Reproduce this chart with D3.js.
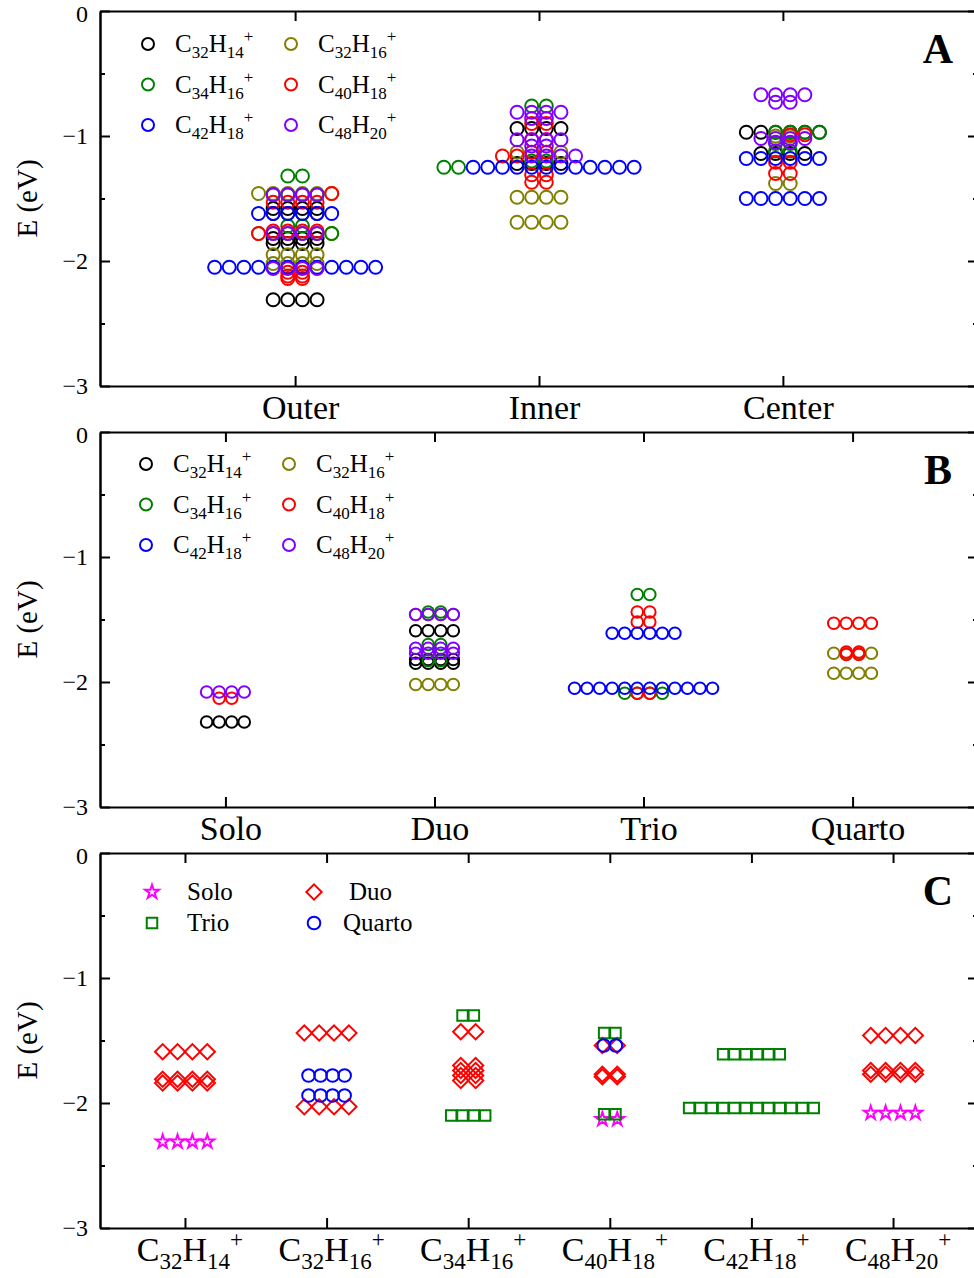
<!DOCTYPE html>
<html>
<head>
<meta charset="utf-8">
<script src="https://cdn.jsdelivr.net/npm/d3@7"></script>
<style>
  body { margin: 0; background: #fff; }
  svg { display: block; font-family: 'Liberation Serif', 'Times New Roman', serif; }
</style>
</head>
<body>
<div id="chart"></div>
<script>
// molecules (legend order) and their colours
const molecules = [['32', '14'], ['32', '16'], ['34', '16'], ['40', '18'], ['42', '18'], ['48', '20']];
const molColors = ['#000000', '#808000', '#008000', '#ff0000', '#0000ff', '#8000ff'];
const sitesA = ['Outer', 'Inner', 'Center'];
const typesB = ['Solo', 'Duo', 'Trio', 'Quarto'];
const yTicks = [0, -1, -2, -3];
const yMinor = [-0.5, -1.5, -2.5];

// panel A rows: [site index, energy (eV), number of sites, shift in marker pitches]
const aC32H14 = [[0, -1.58, 4], [0, -1.62, 4], [0, -1.82, 4], [0, -1.86, 4], [0, -2.31, 4],
  [1, -0.94, 4], [1, -1.22, 4], [2, -0.97, 6], [2, -1.14, 4]];
const aC32H16 = [[0, -1.46, 6], [0, -1.78, 6], [0, -1.95, 4], [0, -2.02, 4],
  [1, -1.13, 4], [1, -1.49, 4], [1, -1.69, 4], [2, -1.00, 2], [2, -1.38, 2]];
const aC34H16 = [[0, -1.32, 2], [0, -1.47, 4], [0, -1.72, 2], [0, -1.78, 1, 2.5],
  [1, -0.76, 2], [1, -1.20, 2], [1, -1.25, 2, -6], [2, -0.97, 4, 1], [2, -1.06, 2], [2, -1.12, 2]];
const aC40H18 = [[0, -1.46, 1, 2.5], [0, -1.53, 4], [0, -1.76, 4], [0, -1.78, 1, -2.5],
  [0, -2.09, 2], [0, -2.12, 2], [0, -2.14, 2],
  [1, -0.90, 2], [1, -1.03, 2], [1, -1.13, 2], [1, -1.16, 2, -2], [1, -1.31, 2], [1, -1.37, 2],
  [2, -0.99, 2, 1], [2, -1.21, 2], [2, -1.30, 2]];
const aC42H18 = [[0, -1.62, 6], [0, -2.05, 12], [1, -1.25, 12, 1], [2, -1.18, 6], [2, -1.50, 6]];
const aC48H20 = [[0, -1.47, 4], [0, -1.78, 4], [0, -2.06, 4],
  [1, -0.81, 4], [1, -0.86, 2], [1, -1.03, 4], [1, -1.08, 2], [1, -1.16, 4, 1],
  [2, -0.67, 4], [2, -0.73, 2], [2, -1.02, 4], [2, -1.05, 2]];

// panel B rows: [H type index, energy, count, shift]
const bC32H14 = [[0, -2.32, 4], [1, -1.59, 4], [1, -1.82, 4], [1, -1.85, 4]];
const bC32H16 = [[1, -1.46, 4], [1, -2.02, 4], [3, -1.77, 4], [3, -1.93, 4]];
const bC34H16 = [[1, -1.44, 2], [1, -1.70, 2], [1, -1.83, 2], [2, -1.30, 2], [2, -2.09, 4]];
const bC40H18 = [[0, -2.13, 2], [2, -1.44, 2], [2, -1.52, 2], [2, -2.09, 2], [3, -1.53, 4], [3, -1.76, 2], [3, -1.78, 2]];
const bC42H18 = [[2, -1.61, 6], [2, -2.05, 12]];
const bC48H20 = [[0, -2.08, 4], [1, -1.46, 4], [1, -1.73, 4], [1, -1.77, 4]];

// panel C rows: [molecule index, energy, count]
const cSolo = [[0, -2.31, 4], [3, -2.13, 2], [5, -2.08, 4]];
const cDuo = [[0, -1.59, 4], [0, -1.81, 4], [0, -1.84, 4], [1, -1.44, 4], [1, -2.03, 4],
  [2, -1.43, 2], [2, -1.70, 2], [2, -1.74, 2], [2, -1.78, 2], [2, -1.82, 2],
  [3, -1.54, 2], [3, -1.77, 2], [3, -1.79, 2], [5, -1.46, 4], [5, -1.74, 4], [5, -1.77, 4]];
const cTrio = [[2, -1.30, 2], [2, -2.10, 4], [3, -1.44, 2], [3, -2.09, 2], [4, -1.61, 6], [4, -2.04, 12]];
const cQuarto = [[1, -1.78, 4], [1, -1.94, 4], [3, -1.54, 2]];

const width = 974;
const height = 1278;
const left = 100;
const right = 978;
const panelH = 375;

const svg = d3.select('#chart').append('svg')
  .attr('width', width)
  .attr('height', height);

// turn rows into marker positions
const toPoints = (rows, x, y, pitch) => rows.flatMap(([c, e, n, s = 0]) =>
  d3.range(n).map(i => ({cx: x(c + 1 + (i - (n - 1) / 2 + s) * pitch), cy: y(e)})));

function formula(sel, m, size, sub) {
  sel.append('tspan').text('C');
  sel.append('tspan').attr('font-size', sub).attr('dy', size * 0.24).text(m[0]);
  sel.append('tspan').attr('dy', -size * 0.24).text('H');
  sel.append('tspan').attr('font-size', sub).attr('dy', size * 0.24).text(m[1]);
  sel.append('tspan').attr('font-size', sub).attr('dy', -size * 0.64).text('+');
}

function frame(top, x, n, labels) {
  const g = svg.append('g');
  const y = d3.scaleLinear().domain([0, -3]).range([top, top + panelH]);
  const style = a => {
    a.selectAll('path, line').attr('stroke', '#000').attr('stroke-width', 2);
    a.selectAll('text').attr('fill', '#000');
    a.attr('font-family', null);
  };
  g.append('g').attr('transform', `translate(${left},0)`)
    .call(d3.axisLeft(y).tickValues(yTicks).tickSize(-10).tickSizeOuter(0).tickPadding(12)
      .tickFormat(d => d === 0 ? '0' : '\u2212' + Math.abs(d)))
    .call(style).attr('font-size', 24)
    .selectAll('text').filter(d => d === 0).attr('dy', '0.42em');
  g.append('g').attr('transform', `translate(${left},0)`)
    .call(d3.axisLeft(y).tickValues(yMinor).tickSize(-5).tickSizeOuter(0).tickFormat(''))
    .call(style);
  g.append('g').attr('transform', `translate(${right},0)`)
    .call(d3.axisRight(y).tickValues(yTicks).tickSize(-10).tickSizeOuter(0).tickFormat(''))
    .call(style);
  g.append('g').attr('transform', `translate(${right},0)`)
    .call(d3.axisRight(y).tickValues(yMinor).tickSize(-5).tickSizeOuter(0).tickFormat(''))
    .call(style);
  const cats = d3.range(1, n + 1);
  g.append('g').attr('transform', `translate(0,${top})`)
    .call(d3.axisTop(x).tickValues(cats).tickSize(-10).tickSizeOuter(0).tickFormat(''))
    .call(style);
  g.append('g').attr('transform', `translate(0,${top + panelH})`)
    .call(d3.axisBottom(x).tickValues(cats).tickSize(-10).tickSizeOuter(0).tickPadding(9)
      .tickFormat(labels ? (d => labels[d - 1]) : ''))
    .call(style).attr('font-size', 34)
    .selectAll('text').attr('dx', 5);

  svg.append('text')
    .attr('transform', `translate(37, ${top + panelH / 2}) rotate(-90)`)
    .attr('text-anchor', 'middle')
    .style('font-size', '29px')
    .text('E (eV)');
  return y;
}

function panelLetter(top, letter) {
  svg.append('text')
    .attr('x', 938).attr('y', top + 52)
    .attr('text-anchor', 'middle')
    .style('font-size', '42px').style('font-weight', 'bold')
    .text(letter);
}

function moleculeLegend(top, cx0) {
  molecules.forEach((m, i) => {
    const col = i % 2;
    const row = Math.floor(i / 2);
    const cy = top + 33 + row * 40.5;
    const cx = cx0 + col * 143;
    svg.append('circle').attr('cx', cx).attr('cy', cy).attr('r', 6)
      .attr('fill', 'none').attr('stroke', molColors[i]).attr('stroke-width', 2);
    svg.append('text').attr('x', cx + 27).attr('y', cy + 8)
      .style('font-size', '25px')
      .call(formula, m, 25, 17);
  });
}

function circlePanel(top, x, n, labels, sets, pitch, r) {
  const y = frame(top, x, n, labels);
  sets.forEach((rows, i) => {
    svg.append('g').selectAll('circle')
      .data(toPoints(rows, x, y, pitch))
      .join('circle')
      .attr('cx', d => d.cx).attr('cy', d => d.cy).attr('r', r)
      .attr('fill', 'none').attr('stroke', molColors[i]).attr('stroke-width', 2);
  });
}

// panel A
const xA = d3.scaleLinear().domain([0.2, 3.8]).range([left, right]);
circlePanel(11, xA, 3, sitesA, [aC32H14, aC32H16, aC34H16, aC40H18, aC42H18, aC48H20], 0.06, 6.5);
moleculeLegend(11, 148);
panelLetter(11, 'A');

// panel B
const xB = d3.scaleLinear().domain([0.4, 4.6]).range([left, right]);
circlePanel(432, xB, 4, typesB, [bC32H14, bC32H16, bC34H16, bC40H18, bC42H18, bC48H20], 0.06, 5.8);
moleculeLegend(431, 146);
panelLetter(432, 'B');

// panel C
const topC = 853;
const xC = d3.scaleLinear().domain([0.4, 6.6]).range([left, right]);
const yC = frame(topC, xC, 6, null);
const kinds = [
  {rows: cSolo, pitch: 0.105, type: d3.symbolStar, size: 58, color: '#ff00ff', rot: 0, name: 'Solo'},
  {rows: cDuo, pitch: 0.105, type: d3.symbolSquare, size: 118, color: '#ff0000', rot: 45, name: 'Duo'},
  {rows: cTrio, pitch: 0.08, type: d3.symbolSquare, size: 110, color: '#008000', rot: 0, name: 'Trio'},
  {rows: cQuarto, pitch: 0.085, type: d3.symbolCircle, size: 125, color: '#0000ff', rot: 0, name: 'Quarto'}
];
kinds.forEach(k => {
  const sym = d3.symbol().type(k.type).size(k.size);
  svg.append('g').selectAll('path')
    .data(toPoints(k.rows, xC, yC, k.pitch))
    .join('path')
    .attr('d', sym)
    .attr('transform', d => `translate(${d.cx},${d.cy}) rotate(${k.rot})`)
    .attr('fill', 'none').attr('stroke', k.color).attr('stroke-width', 2);
});
molecules.forEach((m, i) => {
  svg.append('text')
    .attr('x', xC(i + 1) + 5).attr('y', topC + panelH + 33)
    .attr('text-anchor', 'middle')
    .style('font-size', '34px')
    .call(formula, m, 34, 23);
});
// legend C
const legendC = [[152, 892], [314, 892], [152, 923], [314, 923]];
kinds.forEach((k, i) => {
  const [lx, ly] = legendC[i];
  svg.append('path')
    .attr('d', d3.symbol().type(k.type).size(k.size)())
    .attr('transform', `translate(${lx},${ly}) rotate(${k.rot})`)
    .attr('fill', 'none').attr('stroke', k.color).attr('stroke-width', 2);
  svg.append('text')
    .attr('x', lx + (i === 3 ? 29 : 35)).attr('y', ly + 8)
    .style('font-size', '25px')
    .text(k.name);
});
panelLetter(topC, 'C');
</script>
</body>
</html>
